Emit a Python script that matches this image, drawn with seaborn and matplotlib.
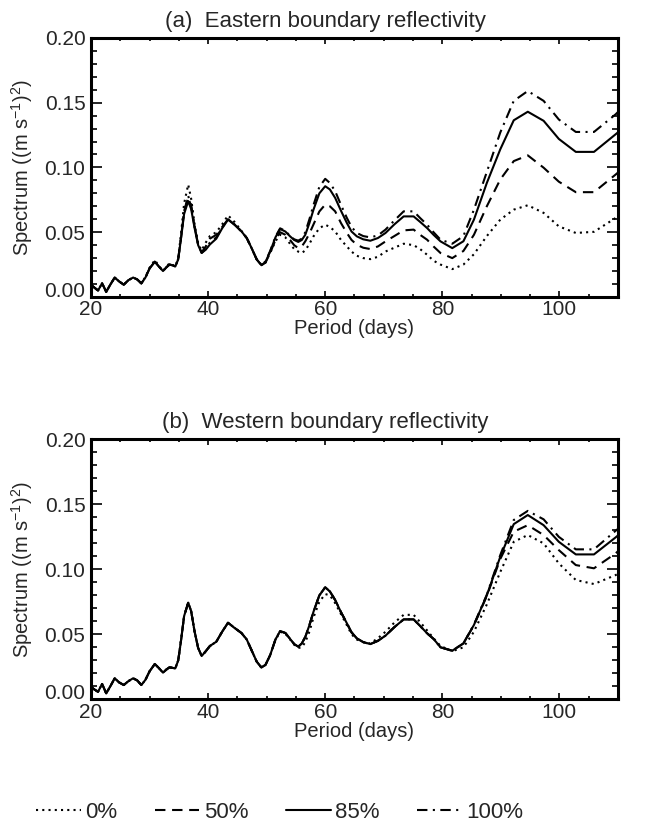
import numpy as np
import pandas as pd
import matplotlib
matplotlib.use("Agg")
import matplotlib.pyplot as plt
import seaborn as sns

# ---------------- data ----------------
period = [20.0, 20.5, 21.2, 21.9, 22.6, 23.3, 24.05, 24.8, 25.6, 26.4,
          27.2, 27.9, 28.6, 29.3, 30.0, 30.9, 31.6, 32.3, 32.9, 33.4,
          33.9, 34.4, 34.9, 35.4, 35.9, 36.6, 37.1, 37.7, 38.3, 38.9,
          39.6, 40.3, 41.4, 42.4, 43.4, 44.5, 45.7, 46.6, 47.4, 48.3,
          49.1, 49.8, 50.6, 51.5, 52.3, 53.2, 54.0, 54.7, 55.4, 56.0,
          56.6, 57.3, 58.0, 59.0, 60.0, 60.8, 61.7, 62.7, 63.7, 64.5,
          65.4, 66.5, 67.7, 69.0, 70.3, 71.8, 73.4, 75.1, 76.2, 77.4,
          78.5, 79.7, 81.7, 83.6, 85.4, 87.6, 89.9, 92.2, 94.6, 97.3,
          99.9, 102.8, 105.9, 109.6, 110.5]

# (a) Eastern boundary reflectivity
east_0 = [0.0095, 0.0075, 0.0050, 0.0105, 0.0040, 0.0095, 0.0150, 0.0120, 0.0095, 0.0130,
          0.0150, 0.0135, 0.0105, 0.0155, 0.0225, 0.0285, 0.0240, 0.0200, 0.0235, 0.0260,
          0.0250, 0.0235, 0.0300, 0.0500, 0.0720, 0.0868, 0.0760, 0.0560, 0.0410, 0.0360,
          0.0420, 0.0470, 0.0500, 0.0560, 0.0630, 0.0580, 0.0510, 0.0455, 0.0380, 0.0290,
          0.0250, 0.0265, 0.0340, 0.0430, 0.0480, 0.0460, 0.0410, 0.0370, 0.0350, 0.0339,
          0.0360, 0.0410, 0.0468, 0.0530, 0.0558, 0.0540, 0.0506, 0.0440, 0.0390, 0.0350,
          0.0318, 0.0300, 0.0292, 0.0310, 0.0351, 0.0380, 0.0411, 0.0400, 0.0370, 0.0326,
          0.0280, 0.0250, 0.0215, 0.0250, 0.0330, 0.0470, 0.0597, 0.0674, 0.0708, 0.0649,
          0.0545, 0.0494, 0.0503, 0.0610, 0.0640]
east_50 = [0.0095, 0.0075, 0.0050, 0.0105, 0.0040, 0.0095, 0.0150, 0.0120, 0.0095, 0.0130,
           0.0150, 0.0135, 0.0105, 0.0150, 0.0220, 0.0272, 0.0235, 0.0200, 0.0230, 0.0250,
           0.0245, 0.0235, 0.0295, 0.0465, 0.0655, 0.0770, 0.0700, 0.0540, 0.0405, 0.0345,
           0.0390, 0.0450, 0.0480, 0.0540, 0.0600, 0.0560, 0.0506, 0.0455, 0.0380, 0.0290,
           0.0245, 0.0265, 0.0340, 0.0440, 0.0500, 0.0480, 0.0440, 0.0400, 0.0377, 0.0390,
           0.0430, 0.0490, 0.0560, 0.0660, 0.0713, 0.0700, 0.0661, 0.0570, 0.0494, 0.0440,
           0.0403, 0.0380, 0.0370, 0.0390, 0.0429, 0.0470, 0.0514, 0.0520, 0.0480, 0.0442,
           0.0390, 0.0339, 0.0300, 0.0355, 0.0480, 0.0700, 0.0907, 0.1049, 0.1093, 0.0998,
           0.0890, 0.0809, 0.0809, 0.0945, 0.0980]
east_85 = [0.0095, 0.0075, 0.0050, 0.0105, 0.0040, 0.0095, 0.0150, 0.0120, 0.0095, 0.0130,
           0.0150, 0.0135, 0.0105, 0.0150, 0.0220, 0.0272, 0.0235, 0.0200, 0.0230, 0.0250,
           0.0245, 0.0235, 0.0290, 0.0460, 0.0640, 0.0740, 0.0680, 0.0530, 0.0400, 0.0340,
           0.0365, 0.0405, 0.0450, 0.0530, 0.0597, 0.0558, 0.0506, 0.0455, 0.0380, 0.0290,
           0.0245, 0.0270, 0.0350, 0.0460, 0.0525, 0.0505, 0.0468, 0.0440, 0.0425, 0.0440,
           0.0480, 0.0570, 0.0674, 0.0800, 0.0855, 0.0830, 0.0765, 0.0665, 0.0571, 0.0505,
           0.0468, 0.0445, 0.0434, 0.0455, 0.0494, 0.0560, 0.0622, 0.0622, 0.0580, 0.0532,
           0.0480, 0.0429, 0.0377, 0.0430, 0.0597, 0.0880, 0.1140, 0.1364, 0.1430, 0.1360,
           0.1220, 0.1120, 0.1120, 0.1256, 0.1290]
east_100 = [0.0095, 0.0075, 0.0050, 0.0105, 0.0040, 0.0095, 0.0150, 0.0120, 0.0095, 0.0130,
            0.0150, 0.0135, 0.0105, 0.0150, 0.0220, 0.0272, 0.0235, 0.0200, 0.0230, 0.0250,
            0.0245, 0.0235, 0.0295, 0.0470, 0.0660, 0.0780, 0.0710, 0.0545, 0.0405, 0.0340,
            0.0370, 0.0420, 0.0460, 0.0535, 0.0600, 0.0560, 0.0506, 0.0455, 0.0380, 0.0290,
            0.0245, 0.0275, 0.0355, 0.0465, 0.0530, 0.0510, 0.0470, 0.0445, 0.0435, 0.0450,
            0.0500, 0.0600, 0.0710, 0.0850, 0.0912, 0.0880, 0.0817, 0.0710, 0.0610, 0.0540,
            0.0494, 0.0470, 0.0460, 0.0475, 0.0520, 0.0590, 0.0661, 0.0661, 0.0610, 0.0558,
            0.0500, 0.0442, 0.0411, 0.0470, 0.0674, 0.0965, 0.1270, 0.1514, 0.1590, 0.1514,
            0.1370, 0.1274, 0.1274, 0.1410, 0.1450]

# (b) Western boundary reflectivity
west_0 = [0.0097, 0.0078, 0.0058, 0.0118, 0.0046, 0.0100, 0.0162, 0.0130, 0.0110, 0.0140,
          0.0162, 0.0145, 0.0110, 0.0150, 0.0215, 0.0272, 0.0240, 0.0205, 0.0230, 0.0246,
          0.0242, 0.0238, 0.0300, 0.0460, 0.0640, 0.0743, 0.0680, 0.0520, 0.0395, 0.0333,
          0.0370, 0.0410, 0.0443, 0.0520, 0.0589, 0.0550, 0.0510, 0.0460, 0.0380, 0.0290,
          0.0245, 0.0265, 0.0340, 0.0455, 0.0520, 0.0505, 0.0460, 0.0420, 0.0395, 0.0400,
          0.0440, 0.0520, 0.0630, 0.0750, 0.0810, 0.0800, 0.0740, 0.0655, 0.0570, 0.0500,
          0.0460, 0.0440, 0.0430, 0.0470, 0.0520, 0.0590, 0.0650, 0.0650, 0.0595, 0.0530,
          0.0470, 0.0410, 0.0370, 0.0400, 0.0520, 0.0730, 0.0980, 0.1212, 0.1264, 0.1200,
          0.1046, 0.0918, 0.0887, 0.0956, 0.0980]
west_50 = [0.0097, 0.0078, 0.0058, 0.0118, 0.0046, 0.0100, 0.0162, 0.0130, 0.0110, 0.0140,
           0.0162, 0.0145, 0.0110, 0.0150, 0.0215, 0.0272, 0.0240, 0.0205, 0.0230, 0.0246,
           0.0242, 0.0238, 0.0300, 0.0460, 0.0640, 0.0743, 0.0680, 0.0520, 0.0395, 0.0333,
           0.0370, 0.0410, 0.0443, 0.0520, 0.0589, 0.0550, 0.0510, 0.0460, 0.0380, 0.0290,
           0.0245, 0.0265, 0.0340, 0.0460, 0.0525, 0.0510, 0.0465, 0.0425, 0.0405, 0.0430,
           0.0480, 0.0570, 0.0674, 0.0800, 0.0862, 0.0830, 0.0764, 0.0670, 0.0585, 0.0515,
           0.0469, 0.0440, 0.0425, 0.0450, 0.0490, 0.0555, 0.0615, 0.0615, 0.0565, 0.0508,
           0.0465, 0.0400, 0.0374, 0.0430, 0.0570, 0.0795, 0.1080, 0.1290, 0.1340, 0.1264,
           0.1148, 0.1033, 0.1008, 0.1123, 0.1160]
west_85 = [0.0097, 0.0078, 0.0058, 0.0118, 0.0046, 0.0100, 0.0162, 0.0130, 0.0110, 0.0140,
           0.0162, 0.0145, 0.0110, 0.0150, 0.0215, 0.0272, 0.0240, 0.0205, 0.0230, 0.0246,
           0.0242, 0.0238, 0.0300, 0.0460, 0.0640, 0.0743, 0.0680, 0.0520, 0.0395, 0.0333,
           0.0370, 0.0410, 0.0443, 0.0520, 0.0589, 0.0550, 0.0510, 0.0460, 0.0380, 0.0290,
           0.0245, 0.0265, 0.0340, 0.0460, 0.0525, 0.0510, 0.0465, 0.0425, 0.0405, 0.0430,
           0.0480, 0.0570, 0.0674, 0.0800, 0.0862, 0.0830, 0.0764, 0.0670, 0.0585, 0.0515,
           0.0469, 0.0440, 0.0425, 0.0450, 0.0490, 0.0555, 0.0615, 0.0615, 0.0565, 0.0508,
           0.0465, 0.0400, 0.0374, 0.0430, 0.0572, 0.0800, 0.1097, 0.1348, 0.1418, 0.1340,
           0.1212, 0.1115, 0.1115, 0.1246, 0.1280]
west_100 = [0.0097, 0.0078, 0.0058, 0.0118, 0.0046, 0.0100, 0.0162, 0.0130, 0.0110, 0.0140,
            0.0162, 0.0145, 0.0110, 0.0150, 0.0215, 0.0272, 0.0240, 0.0205, 0.0230, 0.0246,
            0.0242, 0.0238, 0.0300, 0.0460, 0.0640, 0.0743, 0.0680, 0.0520, 0.0395, 0.0333,
            0.0370, 0.0410, 0.0443, 0.0520, 0.0589, 0.0550, 0.0510, 0.0460, 0.0380, 0.0290,
            0.0245, 0.0265, 0.0340, 0.0460, 0.0525, 0.0510, 0.0465, 0.0425, 0.0405, 0.0430,
            0.0480, 0.0570, 0.0674, 0.0800, 0.0862, 0.0830, 0.0764, 0.0670, 0.0585, 0.0515,
            0.0469, 0.0440, 0.0425, 0.0450, 0.0490, 0.0555, 0.0615, 0.0615, 0.0565, 0.0508,
            0.0465, 0.0400, 0.0374, 0.0430, 0.0575, 0.0805, 0.1110, 0.1380, 0.1450, 0.1385,
            0.1250, 0.1154, 0.1154, 0.1297, 0.1330]

labels = ["0%", "50%", "85%", "100%"]
titles = ["(a)  Eastern boundary reflectivity", "(b)  Western boundary reflectivity"]
panels = [[east_0, east_50, east_85, east_100], [west_0, west_50, west_85, west_100]]

for grp in panels:
    for s in grp:
        assert len(s) == len(period)

# ---------------- style ----------------
sns.set_style("ticks")
plt.rcParams["font.family"] = ["Liberation Sans", "DejaVu Sans"]
plt.rcParams["mathtext.fontset"] = "custom"
plt.rcParams["mathtext.rm"] = "Liberation Sans"
plt.rcParams["mathtext.it"] = "Liberation Sans:italic"
plt.rcParams["mathtext.bf"] = "Liberation Sans:bold"

LW = 1.5
styles = [(0, (1, 2.0)), (0, (5.0, 3.2)), "-", (0, (5.0, 2.6, 1, 2.6))]

fig = plt.figure(figsize=(6.49, 8.33), dpi=100)
ax_pos = [[0.1402, 0.6435, 0.812, 0.311], [0.1402, 0.1605, 0.812, 0.312]]

handles = []
for p, (pos, grp, title) in enumerate(zip(ax_pos, panels, titles)):
    ax = fig.add_axes(pos)
    for vals, ls, lab in zip(grp, styles, labels):
        df = pd.DataFrame({"period": period, "spec": vals})
        sns.lineplot(data=df, x="period", y="spec", ax=ax, color="black",
                     linewidth=LW, linestyle=ls, estimator=None, sort=False,
                     label=lab, legend=False)
    ax.set_xlim(20, 110)
    ax.set_ylim(0, 0.2)
    ax.set_xticks([20, 40, 60, 80, 100])
    ax.set_xticks(np.arange(20, 111, 5), minor=True)
    ax.set_yticks([0.0, 0.05, 0.10, 0.15, 0.20])
    ax.set_yticks(np.arange(0, 0.2001, 0.01), minor=True)
    ax.set_yticklabels(["0.00", "0.05", "0.10", "0.15", "0.20"])
    ax.tick_params(axis="both", which="both", direction="in", top=True, right=True,
                   width=1.2, labelsize=15, color="black")
    ax.tick_params(axis="x", which="major", length=4.3, pad=2.5)
    ax.tick_params(axis="x", which="minor", length=2.2)
    ax.tick_params(axis="y", which="major", length=8, pad=4)
    ax.tick_params(axis="y", which="minor", length=4.3)
    # the lowest y label sits slightly above its tick, as in the reference
    ax.yaxis.get_major_ticks()[0].label1.set_verticalalignment("baseline")
    for sp in ax.spines.values():
        sp.set_linewidth(2.2)
        sp.set_color("black")
    ax.set_xlabel("Period (days)", fontsize=14.5, labelpad=0)
    ax.set_ylabel(r"Spectrum ((m s$^{\mathrm{-1}}$)$^{\mathrm{2}}$)", fontsize=14.5)
    ax.yaxis.set_label_coords(-0.106, 0.5)
    ax.set_title(title, fontsize=16, pad=8, x=0.444)
    if p == 0:
        handles = ax.get_lines()[:4]

leg = fig.legend(handles, labels, loc="center", bbox_to_anchor=(0.431, 0.025), ncol=4,
                 frameon=False, fontsize=16, handlelength=2.0, handletextpad=0.2,
                 columnspacing=1.7)

fig.savefig("out.png", dpi=100)
